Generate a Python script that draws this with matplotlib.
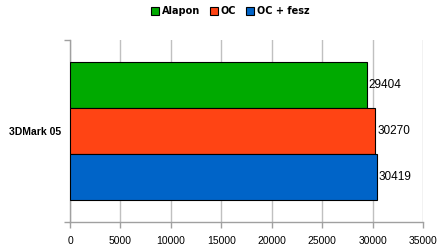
import matplotlib

matplotlib.use("Agg")
import matplotlib.pyplot as plt
import numpy as np

category = "3DMark 05"
series = ["Alapon", "OC", "OC + fesz"]
values = [29404, 30270, 30419]
colors = ["#00aa00", "#ff4414", "#0064c8"]
xticks = [0, 5000, 10000, 15000, 20000, 25000, 30000, 35000]

plt.rcParams["font.family"] = ["Liberation Sans", "DejaVu Sans"]

fig = plt.figure(figsize=(4.47, 2.47), dpi=100)
ax = fig.add_axes([70 / 447, 25 / 247, 353 / 447, 182 / 247])

bar_h = 0.251
for i, (name, val, col) in enumerate(zip(series, values, colors)):
    y = (1 - i) * bar_h
    ax.barh(y, val, height=bar_h, color=col, edgecolor="black", linewidth=0.8, label=name, zorder=3)
    ax.text(val + 200, y, str(val), va="center", ha="left", fontsize=8.5, zorder=4)

ax.set_xlim(0, 35000)
ax.set_ylim(-0.5, 0.5)
ax.set_xticks(xticks)
ax.set_xticklabels([str(t) for t in xticks], fontsize=7.5)
ax.grid(axis="x", color="#c0c0c0", linewidth=1.0, zorder=0)

ax.set_yticks([0])
ax.set_yticklabels([category], fontsize=7.5, fontweight="bold")
ax.tick_params(axis="y", which="major", length=0, pad=6.5)
ax.set_yticks([-0.5, 0.5], minor=True)
ax.tick_params(axis="y", which="minor", length=4, color="#a0a0a0", width=1)
ax.tick_params(axis="x", length=4, color="#a0a0a0", width=1, pad=6)

for side in ["top", "right"]:
    ax.spines[side].set_visible(False)
for side in ["left", "bottom"]:
    ax.spines[side].set_color("#a0a0a0")
    ax.spines[side].set_linewidth(1.0)

fig.legend(
    loc="upper center",
    bbox_to_anchor=(0.515, 1.01),
    ncol=3,
    frameon=False,
    prop={"family": "DejaVu Sans", "size": 7, "weight": "bold"},
    handlelength=0.85,
    handleheight=0.85,
    handletextpad=0.3,
    columnspacing=1.0,
)

fig.savefig("out.png", dpi=100)
